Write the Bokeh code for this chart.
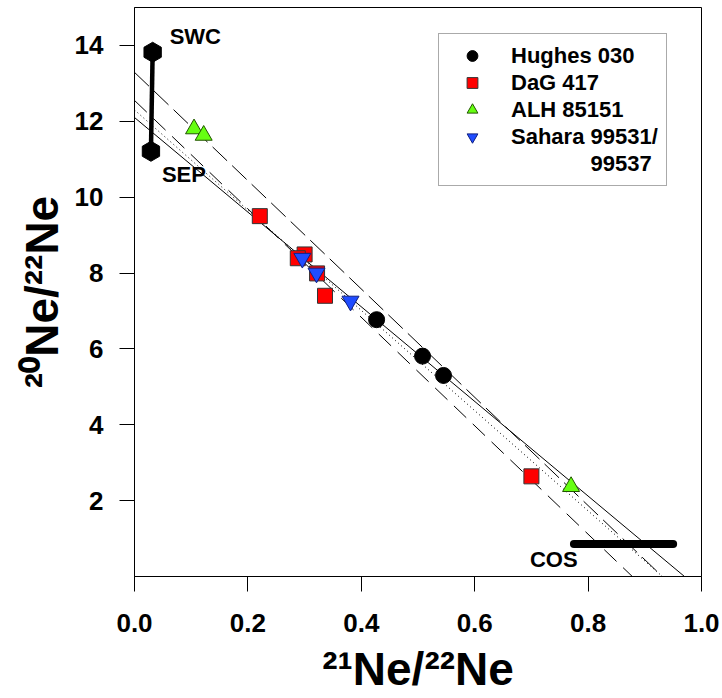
from bokeh.plotting import figure
from bokeh.models import Legend, LegendItem, Range1d, FixedTicker, PrintfTickFormatter
from bokeh.core.properties import value
from bokeh.embed import file_html
from bokeh.resources import INLINE
import numpy as np

FONT = "Liberation Sans"

# ---- data (21Ne/22Ne, 20Ne/22Ne) ----
hughes_x = [0.427, 0.508, 0.545]
hughes_y = [6.77, 5.81, 5.30]
dag_x = [0.221, 0.300, 0.288, 0.322, 0.336, 0.700]
dag_y = [9.50, 8.49, 8.39, 7.99, 7.40, 2.64]
alh_x = [0.105, 0.122, 0.770]
alh_y = [11.80, 11.63, 2.37]
sah_x = [0.296, 0.321, 0.381]
sah_y = [8.39, 8.00, 7.26]

# end members
em_x = [0.032, 0.029]      # SWC, SEP
em_y = [13.82, 11.21]
em_names = ["SWC", "SEP"]
cos_x = [0.775, 0.950]
cos_y = [0.86, 0.86]

# mixing / regression lines: 20/22 intercept at 21/22 = 0 and 21/22 intercept at 20/22 = 0
line_y0 = [12.1, 12.3, 13.29, 12.55]
line_x0 = [0.970, 0.931, 0.931, 0.878]
line_dashes = ["solid", "1 3", "20 7", "17 9"]

x_ticks = [0.0, 0.2, 0.4, 0.6, 0.8, 1.0]
y_ticks = [2, 4, 6, 8, 10, 12, 14]

p = figure(width=722, height=698,
           min_border_left=134, min_border_right=21, min_border_top=7, min_border_bottom=122,
           x_range=Range1d(0, 1.0), y_range=Range1d(0, 15),
           x_axis_label="²¹Ne/²²Ne", y_axis_label="²⁰Ne/²²Ne",
           output_backend="svg", toolbar_location=None)
p.xgrid.visible = False
p.ygrid.visible = False
p.outline_line_color = "black"
p.outline_line_width = 1
p.background_fill_color = "white"
p.border_fill_color = "white"

for ax, ticks, fmt in ((p.xaxis[0], x_ticks, "%.1f"), (p.yaxis[0], y_ticks, "%d")):
    ax.ticker = FixedTicker(ticks=ticks)
    ax.formatter = PrintfTickFormatter(format=fmt)
    ax.major_tick_in = 0
    ax.major_tick_out = 15
    ax.minor_tick_line_color = None
    ax.major_tick_line_color = "black"
    ax.axis_line_color = "black"
    ax.major_label_text_font = FONT
    ax.major_label_text_font_style = "bold"
    ax.major_label_text_font_size = "26px"
    ax.major_label_text_color = "black"
    ax.axis_label_text_font = FONT
    ax.axis_label_text_font_style = "bold"
    ax.axis_label_text_font_size = "46px"
    ax.axis_label_text_color = "black"
p.xaxis[0].major_label_standoff = 22
p.yaxis[0].major_label_standoff = 16
p.xaxis[0].axis_label_standoff = 8
p.yaxis[0].axis_label_standoff = 4

# lines
for y0, x0, d in zip(line_y0, line_x0, line_dashes):
    p.line([0, x0], [y0, 0], line_color="black", line_width=1, line_dash=d)

# end members
p.line(em_x, em_y, line_color="black", line_width=4.5)
p.scatter(em_x, em_y, marker="hex", size=20, angle=np.pi / 2, fill_color="black", line_color="black")
p.line(cos_x, cos_y, line_color="black", line_width=8, line_cap="round")

p.text([em_x[0]], [em_y[0]], text=[em_names[0]], x_offset=17, y_offset=-16,
       text_font=value(FONT), text_font_style="bold", text_font_size="22px",
       text_baseline="middle", text_align="left", text_color="black")
p.text([em_x[1]], [em_y[1]], text=[em_names[1]], x_offset=11, y_offset=23,
       text_font=value(FONT), text_font_style="bold", text_font_size="22px",
       text_baseline="middle", text_align="left", text_color="black")
p.text([cos_x[0]], [cos_y[0]], text=["COS"], x_offset=-44, y_offset=16,
       text_font=value(FONT), text_font_style="bold", text_font_size="22px",
       text_baseline="middle", text_align="left", text_color="black")

# data points
r_h = p.scatter(hughes_x, hughes_y, marker="circle", size=16, fill_color="black", line_color="black")
r_d = p.scatter(dag_x, dag_y, marker="square", size=15, fill_color="#ff0000", line_color="#333333")
r_a = p.scatter(alh_x, alh_y, marker="triangle", size=17, fill_color="#66ff11", line_color="#225500")
r_s = p.scatter(sah_x, sah_y, marker="inverted_triangle", size=17, fill_color="#1f4cff", line_color="#102080")

NB = "\u00a0"
legend = Legend(items=[
    LegendItem(label="Hughes 030", renderers=[r_h]),
    LegendItem(label="DaG 417", renderers=[r_d]),
    LegendItem(label="ALH 85151", renderers=[r_a]),
    LegendItem(label="Sahara 99531/", renderers=[r_s]),
    LegendItem(label=NB * 13 + "99537", renderers=[]),
], location=(304, 390), orientation="vertical",
   glyph_width=50, glyph_height=27, spacing=0, padding=8, label_standoff=14,
   label_height=27,
   label_text_font=FONT, label_text_font_style="bold", label_text_font_size="22px",
   label_text_color="black",
   border_line_color="#555555", border_line_width=1, background_fill_alpha=1)
p.add_layout(legend, "center")

open("out.html", "w").write(file_html(p, INLINE))
